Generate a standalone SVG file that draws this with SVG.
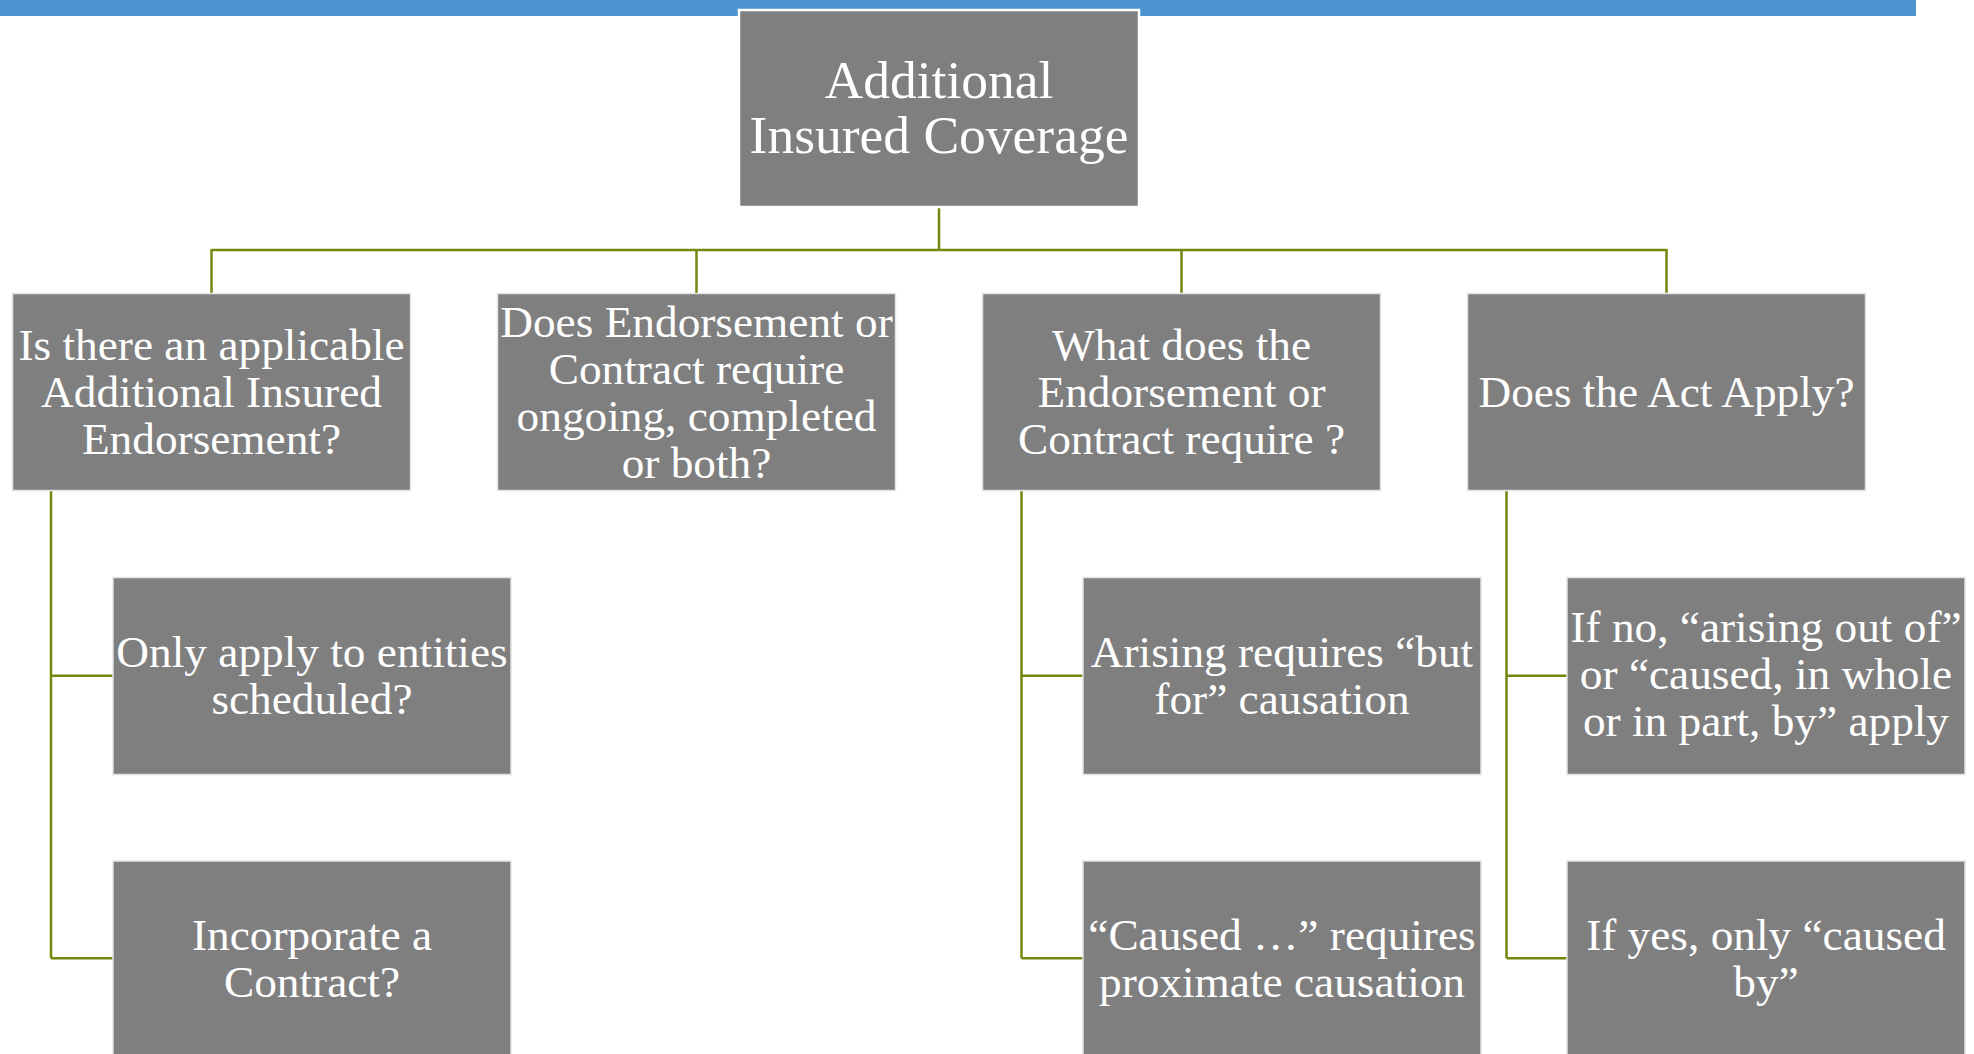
<svg xmlns="http://www.w3.org/2000/svg" width="1974" height="1054" viewBox="0 0 1974 1054">
<style>
.box{fill:#7f7f7f;stroke:#e3e3e3;stroke-width:1.5}
.t{font-family:"Liberation Serif","Times New Roman",serif;font-size:45.3px;fill:#ffffff;text-anchor:middle}
.root{font-size:53.5px}
.c{stroke:#76870f;stroke-width:2.5;fill:none}
</style>
<rect x="0" y="0" width="1916" height="16" fill="#4c94d0"/>
<g id="connectors">
<path class="c" d="M939 207V250M211.5 250H1666.5M211.5 249V293M696.5 249V293M1181.5 249V293M1666.5 249V293"/>
<path class="c" d="M51 491V958.3M51 675.7H113M51 958.3H113"/>
<path class="c" d="M1021.5 491V958.3M1021.5 675.7H1083M1021.5 958.3H1083"/>
<path class="c" d="M1506.5 491V958.3M1506.5 675.7H1567M1506.5 958.3H1567"/>
</g>
<g id="root">
<rect class="box" x="739" y="10" width="400" height="197" style="stroke:#ffffff;stroke-width:2.5"/>
<text class="t root" x="939" y="98">Additional</text>
<text class="t root" x="939" y="153">Insured Coverage</text>
</g>
<g id="n1">
<rect class="box" x="12.5" y="293.5" width="398" height="197"/>
<text class="t" x="211.5" y="360">Is there an applicable</text>
<text class="t" x="211.5" y="407">Additional Insured</text>
<text class="t" x="211.5" y="454">Endorsement?</text>
</g>
<g id="n2">
<rect class="box" x="497.5" y="293.5" width="398" height="197"/>
<text class="t" x="696.5" y="337">Does Endorsement or</text>
<text class="t" x="696.5" y="384">Contract require</text>
<text class="t" x="696.5" y="431">ongoing, completed</text>
<text class="t" x="696.5" y="478">or both?</text>
</g>
<g id="n3">
<rect class="box" x="982.5" y="293.5" width="398" height="197"/>
<text class="t" x="1181.5" y="360">What does the</text>
<text class="t" x="1181.5" y="407">Endorsement or</text>
<text class="t" x="1181.5" y="454">Contract require ?</text>
</g>
<g id="n4">
<rect class="box" x="1467.5" y="293.5" width="398" height="197"/>
<text class="t" x="1666.5" y="407">Does the Act Apply?</text>
</g>
<g id="n1a">
<rect class="box" x="113" y="577.5" width="398" height="197"/>
<text class="t" x="312" y="667">Only apply to entities</text>
<text class="t" x="312" y="714">scheduled?</text>
</g>
<g id="n1b">
<rect class="box" x="113" y="861" width="398" height="197"/>
<text class="t" x="312" y="950">Incorporate a</text>
<text class="t" x="312" y="997">Contract?</text>
</g>
<g id="n3a">
<rect class="box" x="1083" y="577.5" width="398" height="197"/>
<text class="t" x="1282" y="667">Arising requires “but</text>
<text class="t" x="1282" y="714">for” causation</text>
</g>
<g id="n3b">
<rect class="box" x="1083" y="861" width="398" height="197"/>
<text class="t" x="1282" y="950">“Caused …” requires</text>
<text class="t" x="1282" y="997">proximate causation</text>
</g>
<g id="n4a">
<rect class="box" x="1567" y="577.5" width="398" height="197"/>
<text class="t" x="1766" y="642">If no, “arising out of”</text>
<text class="t" x="1766" y="689">or “caused, in whole</text>
<text class="t" x="1766" y="736">or in part, by” apply</text>
</g>
<g id="n4b">
<rect class="box" x="1567" y="861" width="398" height="197"/>
<text class="t" x="1766" y="950">If yes, only “caused</text>
<text class="t" x="1766" y="997">by”</text>
</g>
</svg>
